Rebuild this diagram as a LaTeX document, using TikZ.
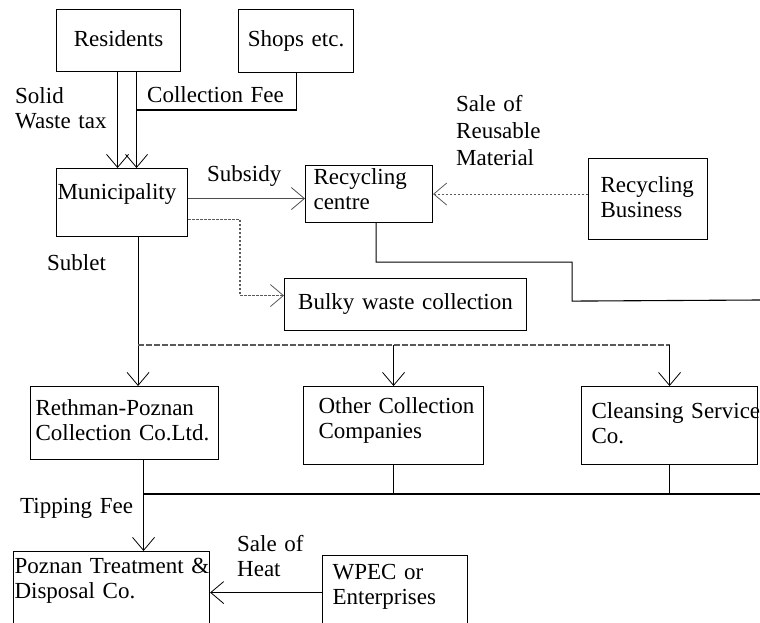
\documentclass[tikz,border=0pt]{standalone}
\usepackage{fontspec}
\setmainfont{Liberation Serif}
\usetikzlibrary{arrows.meta}

\def\txtfont{\fontsize{23}{25}\selectfont}

\tikzset{
  box/.style={draw, line width=1.1pt, anchor=north west, inner sep=0pt,
    text height=16pt, align=left, font=\txtfont},
  lbl/.style={anchor=north west, inner sep=0pt, text height=16pt,
    text width=5cm, align=left, font=\txtfont},
  link/.style={line width=1.1pt},
  arr/.style={link, -{Straight Barb[length=13pt,width=22pt,line width=0.8pt]}},
  dotarr/.style={arr, black!65, dash pattern=on 2.5pt off 1.5pt},
  dashline/.style={link, black!65, dash pattern=on 6pt off 2pt}
}

\begin{document}
\begin{tikzpicture}[x=1pt, y=-1pt]
\useasboundingbox (0,0) rectangle (760,623);

%boxes
\node[box, align=center, minimum width=124pt, minimum height=62pt, text width=116pt, text depth=4pt] (resid) at (56,9) {Residents};
\node[box, align=center, minimum width=115pt, minimum height=63pt, text width=107pt, text depth=5pt] (shops) at (238,9) {Shops etc.};
\node[box, minimum width=131pt, minimum height=68pt, text width=129pt, text depth=22pt] (muni) at (56,168) {Municipality};
\node[box, minimum width=127pt, minimum height=57pt, text width=111pt, text depth=35pt] (reccen) at (305,165) {Recycling\\centre};
\node[box, minimum width=119pt, minimum height=81pt, text width=95pt, text depth=29pt] (recbus) at (588,158) {Recycling\\Business};
\node[box, align=center, minimum width=242pt, minimum height=52pt, text width=230pt, text depth=6pt] (bulky) at (284,278) {Bulky waste collection};
\node[box, minimum width=188pt, minimum height=73pt, text width=178pt, text depth=31pt] (reth) at (30,386) {\mbox{Rethman-Poznan}\\\mbox{Collection Co.Ltd.}};
\node[box, minimum width=180pt, minimum height=78pt, text width=150pt, text depth=40pt] (other) at (303,386) {\mbox{Other Collection}\\Companies};
\node[box, minimum width=176pt, minimum height=78pt, text width=156pt, text depth=30pt] (clean) at (581,386) {\mbox{Cleansing Service}\\Co.};
\node[box, minimum width=196pt, minimum height=82pt, text width=194pt, text depth=54pt] (pozn) at (13,551) {\mbox{Poznan Treatment \&}\\\mbox{Disposal Co.}};
\node[box, minimum width=145pt, minimum height=74pt, text width=125pt, text depth=42pt] (wpec) at (322,555) {WPEC or\\Enterprises};

%labels
\node[lbl] (taxlbl) at (15,87) {Solid\\Waste tax};
\node[lbl] (feelbl) at (147,86) {Collection Fee};
\node[lbl] (sublbl) at (207,165) {Subsidy};
\node[lbl, font=\fontsize{23}{27}\selectfont] (salelbl) at (456,95) {Sale of\\Reusable\\Material};
\node[lbl] (subletlbl) at (47,254) {Sublet};
\node[lbl] (tiplbl) at (20,497) {Tipping Fee};
\node[lbl] (heatlbl) at (237,535) {Sale of\\Heat};

%payments to the municipality
\coordinate (feejoin) at (136,110);
\draw[arr] ([xshift=-1pt]resid.south) -- ([xshift=-1pt]resid.south |- muni.north);
\draw[arr] ([xshift=18pt]resid.south) -- ([xshift=18pt]resid.south |- muni.north);
\draw[link] (shops.south) |- (feejoin);

%recycling
\draw[arr, black!70] ([yshift=4pt]muni.east) -- ([yshift=4pt]muni.east -| reccen.west);
\draw[dotarr] ([yshift=-17pt]muni.east) -| ([xshift=-44pt,yshift=9pt]bulky.west) -- ([yshift=9pt]bulky.west);
\draw[dotarr] (recbus.west |- reccen.east) -- (reccen.east);
\coordinate (recout) at (760,300);
\draw[link] ([xshift=7pt]reccen.south) -- ++(0,39) -| ++(196,39) -- (recout);

%collection
\coordinate (split) at (138,345);
\draw[arr] ([xshift=16pt]muni.south) -- ([xshift=16pt]muni.south |- reth.north);
\draw[dashline] (split) -- (split -| clean.north);
\foreach \n in {other,clean}
    \draw[arr] (split -| \n.north) -- (\n.north);

%disposal
\coordinate (tipend) at (760,494);
\draw[arr] ([xshift=19pt]reth.south) -- ([xshift=19pt]reth.south |- pozn.north);
\draw[link] ([xshift=19pt]reth.south |- tipend) -- (tipend);
\foreach \n in {other,clean}
    \draw[link] (\n.south) -- (\n.south |- tipend);
\draw[arr] (wpec.west) -- (pozn.east);

\end{tikzpicture}
\end{document}
